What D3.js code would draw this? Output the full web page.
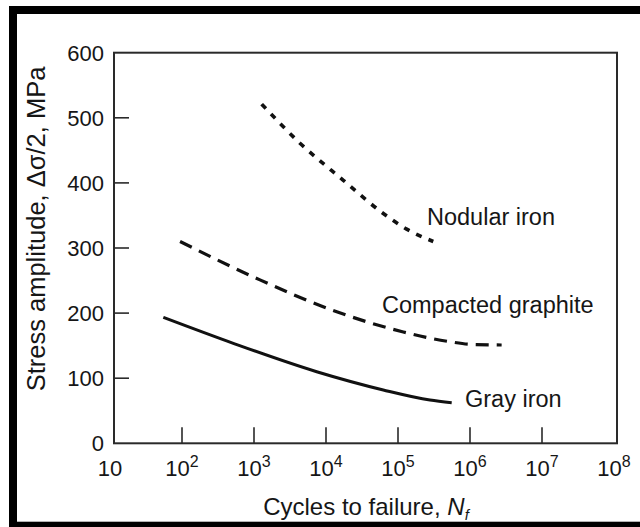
<!DOCTYPE html>
<html><head><meta charset="utf-8">
<script src="https://cdn.jsdelivr.net/npm/d3@7/dist/d3.min.js"></script>
<style>
html,body{margin:0;padding:0;background:#fff;}
svg{display:block;font-family:"Liberation Sans",Arial,Helvetica,sans-serif;}
</style></head>
<body>
<svg id="chart" width="640" height="527"></svg>
<script>
// ---- data ----
const xTicks = [10, 1e2, 1e3, 1e4, 1e5, 1e6, 1e7, 1e8];
const xTickExp = [1, 2, 3, 4, 5, 6, 7, 8];
const yTicks = [0, 100, 200, 300, 400, 500, 600];

const nodularN = [1280, 4350, 17400, 62500, 132000, 309000];
const nodularS = [521, 461, 404, 353, 329, 310];

const compactedN = [94, 1210, 14100, 118600, 527000, 1000000, 2750000];
const compactedS = [310, 251, 202, 171, 156, 152, 151];

const grayN = [55, 516, 7430, 62500, 278000, 557000];
const grayS = [193.5, 153.6, 110, 82, 66.5, 62.4];

const seriesNames = ["Nodular iron", "Compacted graphite", "Gray iron"];

// ---- layout ----
const svg = d3.select("#chart");
const frame = {left: 114, right: 617, top: 52.7, bottom: 443.3};
const x = d3.scaleLog().domain([10, 1e8]).range([110, 614]);
const y = d3.scaleLinear().domain([0, 600]).range([frame.bottom, frame.top]);
const ink = "#161616";

// outer thick border (cut at right and bottom in the reference)
svg.append("rect").attr("x", 13).attr("y", 10).attr("width", 700).attr("height", 515.7)
  .attr("fill", "none").attr("stroke", "#000").attr("stroke-width", 8);

// plot frame
svg.append("rect").attr("x", frame.left).attr("y", frame.top)
  .attr("width", frame.right - frame.left).attr("height", frame.bottom - frame.top)
  .attr("fill", "none").attr("stroke", "#2a2a2a").attr("stroke-width", 2);

// y ticks (inward)
const gy = svg.append("g");
gy.selectAll("line").data(yTicks.filter(d => d > 0 && d < 600)).join("line")
  .attr("x1", frame.left).attr("x2", frame.left + 15)
  .attr("y1", d => y(d)).attr("y2", d => y(d))
  .attr("stroke", "#2a2a2a").attr("stroke-width", 1.6);
gy.selectAll("text").data(yTicks).join("text")
  .attr("x", frame.left - 10).attr("y", d => y(d)).attr("dy", "0.36em")
  .attr("text-anchor", "end").attr("font-size", 22).attr("fill", ink)
  .text(d => d);

// x ticks (inward)
const gx = svg.append("g");
gx.selectAll("line").data(xTicks.slice(1, -1)).join("line")
  .attr("x1", d => x(d)).attr("x2", d => x(d))
  .attr("y1", frame.bottom).attr("y2", frame.bottom - 16)
  .attr("stroke", "#2a2a2a").attr("stroke-width", 1.6);
const xl = gx.selectAll("text").data(xTicks).join("text")
  .attr("x", d => x(d)).attr("y", frame.bottom + 33)
  .attr("text-anchor", "middle").attr("font-size", 22).attr("fill", ink);
xl.each(function(d, i) {
  const t = d3.select(this);
  const e = xTickExp[i];
  t.append("tspan").text("10");
  if (e > 1) t.append("tspan").attr("dy", -9).attr("font-size", 16).text(e);
});

// axis titles
svg.append("text").attr("transform", "translate(45,229) rotate(-90)")
  .attr("text-anchor", "middle").attr("font-size", 25.5).attr("fill", ink)
  .text("Stress amplitude, \u0394\u03C3/2, MPa");
const xt = svg.append("text").attr("x", 366).attr("y", 515)
  .attr("text-anchor", "middle").attr("font-size", 24).attr("fill", ink);
xt.append("tspan").text("Cycles to failure, ");
xt.append("tspan").attr("font-style", "italic").text("N");
xt.append("tspan").attr("font-size", 15).attr("dy", 5).attr("font-style", "italic").text("f");

// curves
const line = d3.line().x(d => x(d[0])).y(d => y(d[1])).curve(d3.curveMonotoneX);
const series = [
  {n: nodularN, s: nodularS, dash: "6,7.5", w: 3.6},
  {n: compactedN, s: compactedS, dash: "13,8", w: 3.2},
  {n: grayN, s: grayS, dash: null, w: 3}
];
series.forEach(sr => {
  svg.append("path").datum(d3.zip(sr.n, sr.s)).attr("d", line)
    .attr("fill", "none").attr("stroke", "#111").attr("stroke-width", sr.w)
    .attr("stroke-dasharray", sr.dash);
});

// curve labels
const labelPos = [{x: 427, y: 225}, {x: 382, y: 313}, {x: 465, y: 407}];
svg.selectAll("text.lbl").data(seriesNames).join("text").attr("class", "lbl")
  .attr("x", (d, i) => labelPos[i].x).attr("y", (d, i) => labelPos[i].y)
  .attr("font-size", 23.5).attr("fill", ink).text(d => d);
</script>
</body></html>
